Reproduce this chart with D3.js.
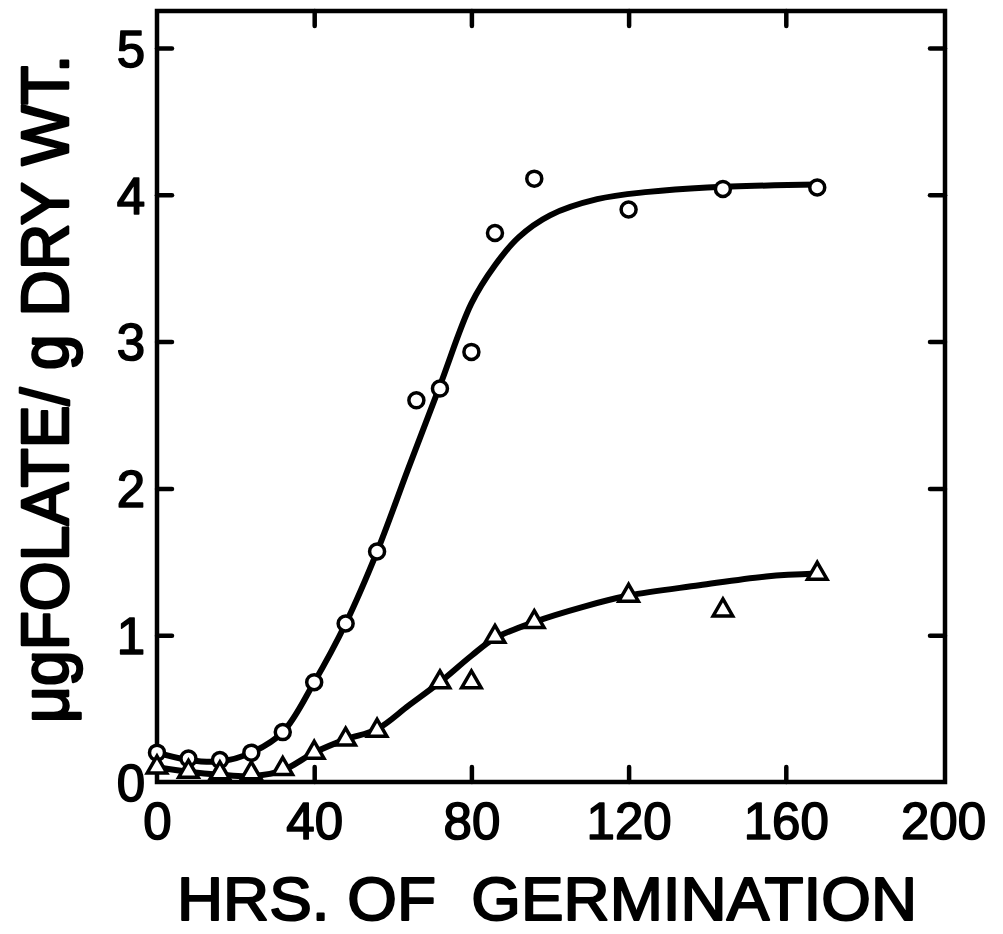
<!DOCTYPE html>
<html>
<head>
<meta charset="utf-8">
<script src="https://cdn.jsdelivr.net/npm/d3@7"></script>
<style>
  html, body { margin: 0; padding: 0; background: #fff; }
  svg { display: block; }
  text { font-family: "Liberation Sans", Arial, sans-serif; fill: #000; }
</style>
</head>
<body>
<svg id="chart" width="1003" height="934"></svg>
<script>
// ---- data ----
const xTicks = [0, 40, 80, 120, 160, 200];
const yTicks = [0, 1, 2, 3, 4, 5];
const xTitle = "HRS. OF  GERMINATION";
const yTitle = "\u03BCgFOLATE/ g DRY WT.";

// total folate (circles)
const circleHours  = [0, 8, 16, 24, 32, 40, 48, 56, 66, 72, 80, 86, 96, 120, 144, 168];
const circleValues = [0.20, 0.16, 0.15, 0.20, 0.34, 0.68, 1.08, 1.57, 2.60, 2.68, 2.93, 3.74, 4.11, 3.90, 4.04, 4.05];
// second series (triangles)
const triHours  = [0, 8, 16, 24, 32, 40, 48, 56, 72, 80, 86, 96, 120, 144, 168];
const triValues = [0.10, 0.07, 0.06, 0.06, 0.09, 0.20, 0.29, 0.35, 0.68, 0.68, 0.99, 1.09, 1.27, 1.17, 1.42];

// drawn fitted curves (as traced)
const circleCurveHours  = [0, 8, 16, 24, 32, 40, 48, 56, 64, 72, 80, 86, 92, 100, 112, 125, 140, 168];
const circleCurveValues = [0.20, 0.15, 0.14, 0.20, 0.34, 0.68, 1.08, 1.57, 2.14, 2.70, 3.26, 3.52, 3.71, 3.86, 3.97, 4.02, 4.05, 4.07];
const triCurveHours  = [0, 8, 16, 24, 32, 40, 48, 56, 64, 72, 80, 86, 96, 108, 120, 138, 155, 168];
const triCurveValues = [0.10, 0.07, 0.05, 0.04, 0.08, 0.20, 0.29, 0.36, 0.52, 0.68, 0.86, 0.98, 1.09, 1.19, 1.27, 1.34, 1.40, 1.42];

// ---- layout ----
const svg = d3.select("#chart");
const fLeft = 157, fRight = 945, fTop = 11, fBottom = 782;
const x = d3.scaleLinear().domain([0, 200]).range([fLeft, 943]);
const y = d3.scaleLinear().domain([0, 5]).range([fBottom, 48]);

const tickFont = 51;

// frame
svg.append("rect")
  .attr("x", fLeft).attr("y", fTop)
  .attr("width", fRight - fLeft).attr("height", fBottom - fTop)
  .attr("fill", "none").attr("stroke", "#000").attr("stroke-width", 4.5);

function heavy(sel, w) {
  sel.attr("fill", "#000").attr("stroke", "#000").attr("stroke-width", w)
     .attr("stroke-linejoin", "round");
}

function styleAxis(g, withText) {
  g.select(".domain").remove();
  g.selectAll(".tick line").attr("stroke", "#000").attr("stroke-width", 4.5)
    .attr("stroke-linecap", "round");
  g.selectAll(".tick text")
    .style("font-size", tickFont + "px")
    .style("font-family", "'Liberation Sans', Arial, sans-serif")
    .call(heavy, 1.6);
  if (!withText) g.selectAll(".tick text").remove();
}

// bottom axis (ticks pointing inward)
svg.append("g").attr("transform", `translate(0,${fBottom})`)
  .call(d3.axisBottom(x).tickValues(xTicks).tickSize(-15).tickPadding(21).tickFormat(d3.format("d")))
  .call(g => {
    styleAxis(g, true);
    g.selectAll(".tick line").filter(d => d === 0 || d === 200).remove();
  });

// top axis
svg.append("g").attr("transform", `translate(0,${fTop})`)
  .call(d3.axisTop(x).tickValues(xTicks).tickSize(-15))
  .call(g => {
    styleAxis(g, false);
    g.selectAll(".tick line").filter(d => d === 0 || d === 200).remove();
  });

// left axis
svg.append("g").attr("transform", `translate(${fLeft},0)`)
  .call(d3.axisLeft(y).tickValues(yTicks).tickSize(-15).tickPadding(12).tickFormat(d3.format("d")))
  .call(g => {
    styleAxis(g, true);
    g.selectAll(".tick line").filter(d => d === 0).remove();
    g.selectAll(".tick text").attr("dy", "0.36em");
  });

// right axis
svg.append("g").attr("transform", `translate(${fRight},0)`)
  .call(d3.axisRight(y).tickValues(yTicks).tickSize(-15))
  .call(g => {
    styleAxis(g, false);
    g.selectAll(".tick line").filter(d => d === 0).remove();
  });

// curves
const line = d3.line().x(d => x(d[0])).y(d => y(d[1])).curve(d3.curveCatmullRom.alpha(0.5));
svg.append("path")
  .datum(d3.zip(circleCurveHours, circleCurveValues))
  .attr("d", line).attr("fill", "none").attr("stroke", "#000")
  .attr("stroke-width", 6).attr("stroke-linejoin", "round").attr("stroke-linecap", "round");
svg.append("path")
  .datum(d3.zip(triCurveHours, triCurveValues))
  .attr("d", line).attr("fill", "none").attr("stroke", "#000")
  .attr("stroke-width", 6).attr("stroke-linejoin", "round").attr("stroke-linecap", "round");

// markers
svg.append("g").selectAll("circle")
  .data(d3.zip(circleHours, circleValues))
  .join("circle")
  .attr("cx", d => x(d[0])).attr("cy", d => y(d[1]))
  .attr("r", 7.5).attr("fill", "#fff").attr("stroke", "#000").attr("stroke-width", 3.5);

const tri = d3.symbol().type(d3.symbolTriangle).size(165);
svg.append("g").selectAll("path")
  .data(d3.zip(triHours, triValues))
  .join("path")
  .attr("d", tri)
  .attr("transform", d => `translate(${x(d[0])},${y(d[1])})`)
  .attr("fill", "#fff").attr("stroke", "#000").attr("stroke-width", 3.5).attr("stroke-linejoin", "miter");

// titles
svg.append("text")
  .attr("x", 177).attr("y", 920)
  .attr("textLength", 740).attr("lengthAdjust", "spacingAndGlyphs")
  .style("font-size", "62px")
  .style("white-space", "pre")
  .call(heavy, 2)
  .text(xTitle);

svg.append("text")
  .attr("transform", "translate(68,723) rotate(-90)")
  .attr("textLength", 668).attr("lengthAdjust", "spacingAndGlyphs")
  .style("font-size", "66px")
  .call(heavy, 2.6)
  .text(yTitle);
</script>
</body>
</html>
